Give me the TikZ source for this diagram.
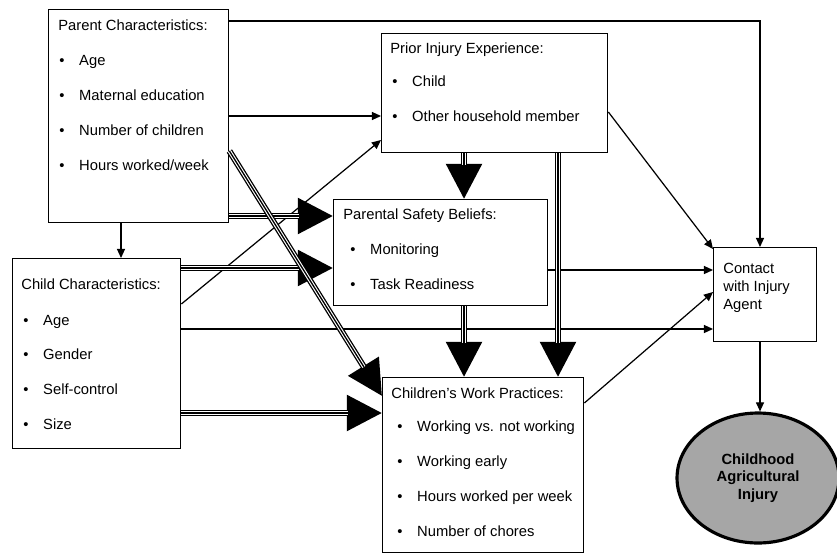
\documentclass[tikz,border=0pt]{standalone}
\usepackage{fontspec}
\setmainfont{Liberation Sans}
\usetikzlibrary{arrows.meta, shapes.geometric, positioning}
\newcommand{\itm}[1]{\makebox[11.3pt][l]{\textbullet}#1}
\tikzset{
x=0.02cm, y=-0.02cm, % one unit is one pixel of the scan, y runs down
every node/.style={font=\fontsize{8.4}{10.2}\selectfont},
box/.style={draw, line width=0.8pt, rectangle, inner sep=0pt, anchor=north west}, % the framed boxes
txt/.style={inner sep=0pt, anchor=west, text height=1.6ex, text depth=0.3ex}, % one line of text
link/.style={line width=0.7pt, -{Triangle[length=5.2pt, width=4.6pt]}}, % plain arrows
bigarrow/.style={line width=3.5pt, -{Triangle[length=20pt, width=19.8pt]},
  postaction={draw=white, line width=2pt, -, shorten >=19.5pt},
  postaction={draw=black, line width=0.75pt, -, shorten >=19.5pt}}, % triple-line arrows
}
\begin{document}
\begin{tikzpicture}
    \useasboundingbox (0,0) rectangle (837,554);
    % boxes
    \node[box, minimum width=3.6cm, minimum height=4.26cm] (parent) at (48,9) {};
    \node[box, minimum width=4.52cm, minimum height=2.38cm] (prior) at (381,33) {};
    \node[box, minimum width=4.28cm, minimum height=2.12cm] (beliefs) at (333,199) {};
    \node[box, minimum width=3.36cm, minimum height=3.8cm] (child) at (12,258) {};
    \node[box, minimum width=4.02cm, minimum height=3.5cm] (work) at (382,377) {};
    \node[box, minimum width=2.06cm, minimum height=1.88cm] (contact) at (713,247) {};
    \node[draw, ellipse, line width=1.8pt, fill=black!35, minimum width=3.24cm, minimum height=2.6cm,
          align=center, font=\fontsize{8.4}{10}\selectfont\bfseries] (injury) at (758,478)
          {Childhood\\Agricultural\\Injury};
    % texts
    \node[txt] (parent-t) at (58,24) {Parent Characteristics:};
    \foreach \t [count=\i] in {Age, Maternal education, Number of children, Hours worked/week}
        \node[txt] (parent-\i) at (59,24+35*\i) {\itm{\t}};
    \node[txt] (prior-t) at (390,47) {Prior Injury Experience:};
    \foreach \t [count=\i] in {Child, Other household member}
        \node[txt] (prior-\i) at (392,46+34.5*\i) {\itm{\t}};
    \node[txt] (beliefs-t) at (343,213) {Parental Safety Beliefs:};
    \foreach \t [count=\i] in {Monitoring, Task Readiness}
        \node[txt] (beliefs-\i) at (350,213+35*\i) {\itm{\t}};
    \node[txt] (child-t) at (21,283) {Child Characteristics:};
    \foreach \t [count=\i] in {Age, Gender, Self-control, Size}
        \node[txt] (child-\i) at (23,284.5+34.7*\i) {\itm{\t}};
    \node[txt] (work-t) at (391,392) {Children's Work Practices:};
    \foreach \t [count=\i] in {Working vs. not working, Working early, Hours worked per week, Number of chores}
        \node[txt] (work-\i) at (397,390+35*\i) {\itm{\t}};
    \node[inner sep=0pt, anchor=north west, align=left] (contact-t) at (723,263)
        {Contact\\with Injury\\Agent};
    % plain arrows
    \draw[link] (parent.east |- 0,21) -| (contact.north -| 760,0);
    \draw[link] (parent.east |- 0,116) -- (prior.west |- 0,116);
    \draw[link] (parent.south -| 121,0) -- (child.north -| 121,0);
    \draw[link] (child.east |- 0,304) -- (prior.west |- 0,140);
    \draw[link] (child.east |- 0,329) -- (contact.west |- 0,329);
    \draw[link] (prior.east |- 0,112) -- (contact.west |- 0,249);
    \draw[link] (beliefs.east |- 0,270) -- (contact.west |- 0,270);
    \draw[link] (work.east |- 0,403) -- (contact.west |- 0,292);
    \draw[link] (contact.south -| 760,0) -- (injury.north -| 760,0);
    % triple arrows
    \draw[bigarrow] (parent.east |- 0,216) -- (beliefs.west |- 0,216);
    \draw[bigarrow] (child.east |- 0,268) -- (beliefs.west |- 0,268);
    \draw[bigarrow] (child.east |- 0,413) -- (work.west |- 0,413);
    \draw[bigarrow] (parent.east |- 0,151) -- (work.west |- 0,396);
    \draw[bigarrow] (prior.south -| 464,0) -- (beliefs.north -| 464,0);
    \draw[bigarrow] (prior.south -| 558,0) -- (work.north -| 558,0);
    \draw[bigarrow] (beliefs.south -| 464,0) -- (work.north -| 464,0);
\end{tikzpicture}
\end{document}
